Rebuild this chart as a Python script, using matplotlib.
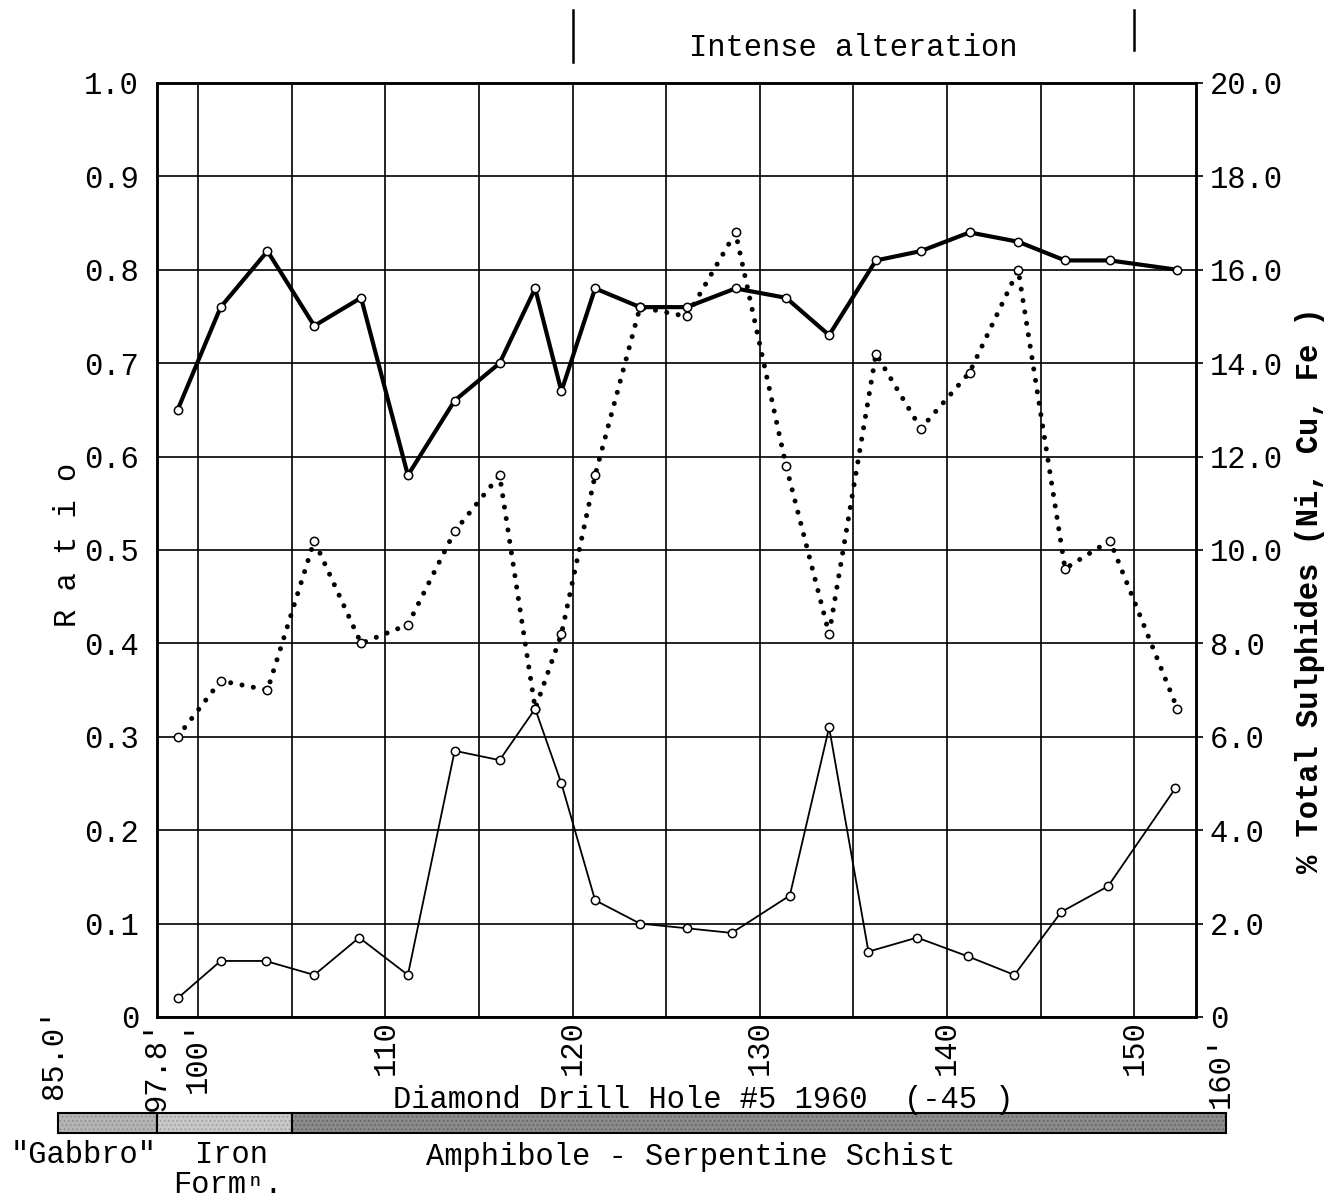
import numpy as np
import matplotlib as mpl
mpl.use('Agg')
import matplotlib.pyplot as plt
import matplotlib.transforms as mtransforms
from matplotlib.patches import Rectangle

plt.rcParams['font.family'] = ['Liberation Mono', 'DejaVu Sans Mono']
plt.rcParams['hatch.linewidth'] = 0.6

# depth along hole (ft) of each sample
depth = [98.9, 101.2, 103.7, 106.2, 108.7, 111.2, 113.7, 116.1, 118.0, 119.4, 121.2, 123.6,
         126.1, 128.7, 131.4, 133.7, 136.2, 138.6, 141.2, 143.8, 146.3, 148.7, 152.3]
ratio_heavy = [0.65, 0.76, 0.82, 0.74, 0.77, 0.58, 0.66, 0.70, 0.78, 0.67, 0.78, 0.76,
               0.76, 0.78, 0.77, 0.73, 0.81, 0.82, 0.84, 0.83, 0.81, 0.81, 0.80]
ratio_dotted = [0.30, 0.36, 0.35, 0.51, 0.40, 0.42, 0.52, 0.58, 0.33, 0.41, 0.58, 0.76,
                0.75, 0.84, 0.59, 0.41, 0.71, 0.63, 0.69, 0.80, 0.48, 0.51, 0.33]

depth_s = [98.9, 101.2, 103.6, 106.2, 108.6, 111.2, 113.7, 116.1, 118.0, 119.4, 121.2, 123.6,
           126.1, 128.5, 131.6, 133.7, 135.8, 138.4, 141.1, 143.6, 146.1, 148.6, 152.2]
sulphides = [0.4, 1.2, 1.2, 0.9, 1.7, 0.9, 5.7, 5.5, 6.6, 5.0, 2.5, 2.0,
             1.9, 1.8, 2.6, 6.2, 1.4, 1.7, 1.3, 0.9, 2.25, 2.8, 4.9]

x_ticks = [97.8, 100, 110, 120, 130, 140, 150]
x_labels = ["97.8'", "100'", "110", "120", "130", "140", "150"]
ratio_ticks = [0, 0.1, 0.2, 0.3, 0.4, 0.5, 0.6, 0.7, 0.8, 0.9, 1.0]
ratio_labels = ['0', '0.1', '0.2', '0.3', '0.4', '0.5', '0.6', '0.7', '0.8', '0.9', '1.0']
sulph_ticks = [0, 2, 4, 6, 8, 10, 12, 14, 16, 18, 20]
sulph_labels = ['0', '2.0', '4.0', '6.0', '8.0', '10.0', '12.0', '14.0', '16.0', '18.0', '20.0']

# rock units under the hole (gabbro part drawn compressed, 85.0' to 97.8')
unit_from = [92.5, 97.8, 105.0]
unit_to = [97.8, 105.0, 154.9]
unit_colors = ['#b4b4b4', '#c8c8c8', '#8a8a8a']
unit_speckle = ['#8c8c8c', '#9a9a9a', '#5e5e5e']
alteration = [120, 150]

FS = 22

fig = plt.figure(figsize=(13.34, 11.99), dpi=100)
ax = fig.add_axes([0.1177, 0.1518, 0.7789, 0.779])
ax2 = ax.twinx()

ax.set_xlim(97.8, 153.3)
ax.set_ylim(0, 1.0)
ax2.set_ylim(0, 20)

ax.xaxis.remove_overlapping_locs = False
ax.set_xticks(x_ticks)
ax.set_xticklabels(x_labels, rotation=90, fontsize=FS)
ax.set_xticks(np.arange(100, 151, 5), minor=True)
ax.tick_params(axis='x', which='both', length=0, pad=2)
ax.set_yticks(ratio_ticks)
ax.set_yticklabels(ratio_labels, fontsize=FS)
ax.tick_params(axis='y', length=0, pad=13)
ax2.set_yticks(sulph_ticks)
ax2.set_yticklabels(sulph_labels, fontsize=FS)
ax2.tick_params(axis='y', length=5, width=1.2, pad=5)

ax.grid(which='minor', axis='x', color='black', lw=1.2)
ax.grid(which='major', axis='y', color='black', lw=1.2)
for a in (ax, ax2):
    for s in a.spines.values():
        s.set_linewidth(1.8)

mk = dict(marker='o', markersize=6, markerfacecolor='white', markeredgecolor='black',
          markeredgewidth=1.1)
ax.plot(depth, ratio_heavy, color='black', lw=3.0, zorder=3, **mk)
ax.plot(depth, ratio_dotted, color='black', lw=3.6, linestyle=(0, (0.01, 2.3)),
        dash_capstyle='round', zorder=3, **mk)
ax2.plot(depth_s, sulphides, color='black', lw=1.3, zorder=3, **mk)

ax.set_ylabel("R a t i o", fontsize=FS)
ax.yaxis.set_label_coords(-0.071, 0.505)
ax2.set_ylabel("% Total Sulphides (Ni, Cu, Fe )", fontsize=FS, fontweight='bold')
ax2.yaxis.set_label_coords(1.095, 0.457)

trans = mtransforms.blended_transform_factory(ax.transData, ax.transAxes)

# intense alteration interval
ax.plot([alteration[0]] * 2, [1.0225, 1.078], color='black', lw=1.8,
        transform=trans, clip_on=False)
ax.plot([alteration[1]] * 2, [1.035, 1.078], color='black', lw=1.8,
        transform=trans, clip_on=False)
ax.text(sum(alteration) / 2, 1.0375, "Intense alteration", fontsize=FS,
        ha='center', va='center', transform=trans)

# rock unit bar
for x0, x1, c, h in zip(unit_from, unit_to, unit_colors, unit_speckle):
    ax.add_patch(Rectangle((x0, -0.124), x1 - x0, 0.0212, facecolor=c, edgecolor=h,
                           hatch='....', lw=0, transform=trans, clip_on=False))
    ax.add_patch(Rectangle((x0, -0.124), x1 - x0, 0.0212, facecolor='none',
                           edgecolor='black', lw=1.5, transform=trans, clip_on=False))

ax.text(unit_from[0] - 0.2, -0.088, "85.0'", rotation=90, fontsize=FS, ha='center',
        va='bottom', transform=trans)
ax.text(unit_to[-1] - 0.3, -0.097, "160'", rotation=90, fontsize=FS, ha='center',
        va='bottom', transform=trans)
ax.text(110.4, -0.105, "Diamond Drill Hole #5 1960  (-45 )", fontsize=FS, ha='left',
        va='bottom', transform=trans)
ax.text(93.9, -0.148, '"Gabbro"', fontsize=FS, ha='center', va='center', transform=trans)
ax.text(101.8, -0.148, 'Iron', fontsize=FS, ha='center', va='center', transform=trans)
ax.text(101.6, -0.180, 'Formⁿ.', fontsize=FS, ha='center', va='center', transform=trans)
ax.text(126.3, -0.150, 'Amphibole - Serpentine Schist', fontsize=FS, ha='center',
        va='center', transform=trans)

plt.savefig('out.png', dpi=100)
